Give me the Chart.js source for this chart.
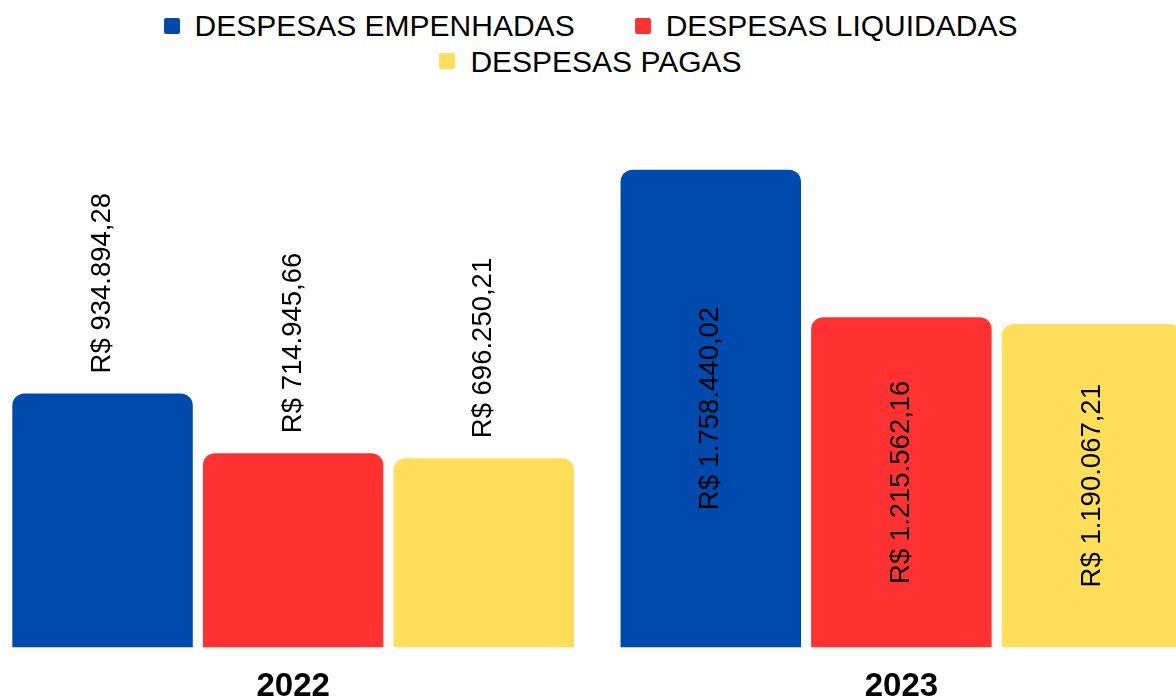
<!DOCTYPE html>
<html>
<head>
<meta charset="utf-8">
<script src="https://cdn.jsdelivr.net/npm/chart.js@4"></script>
<style>
  html, body { margin: 0; padding: 0; background: #fff; overflow: hidden; }
  body { width: 1176px; height: 698px; position: relative; }
  #legenda {
    position: absolute; top: 8px; left: 0; width: 1181px;
    display: flex; flex-wrap: wrap; justify-content: center; column-gap: 60px;
    font: 30px "Liberation Sans", Arial, sans-serif; line-height: 35.5px; color: #000;
  }
  #legenda .item { display: flex; align-items: center; white-space: nowrap; }
  #legenda .caixa { width: 16px; height: 16px; border-radius: 2px; margin-right: 15px; }
  #grafico { position: absolute; top: 0; left: -11.5px; width: 1216.5px; height: 719px; }
</style>
</head>
<body>
<div id="legenda"></div>
<div id="grafico"><canvas id="despesas"></canvas></div>
<script>
// DESPESAS POR ANO
var anos = ['2022', '2023'];
var empenhadas = [934894.28, 1758440.02];
var liquidadas = [714945.66, 1215562.16];
var pagas = [696250.21, 1190067.21];

function reais(v) {
    var partes = v.toFixed(2).split('.');
    var inteiro = partes[0].replace(/\B(?=(\d{3})+(?!\d))/g, '.');
    return 'R$ ' + inteiro + ',' + partes[1];
}

// rotulos girados: acima da barra quando nao cabem, no meio quando cabem
var rotulos = {
    id: 'rotulos',
    afterDatasetsDraw: function (chart) {
        var ctx = chart.ctx;
        ctx.save();
        ctx.font = '27.5px "Liberation Sans", Arial, sans-serif';
        ctx.fillStyle = '#000';
        ctx.textBaseline = 'middle';
        chart.data.datasets.forEach(function (ds, i) {
            chart.getDatasetMeta(i).data.forEach(function (bar, j) {
                var texto = reais(ds.data[j]);
                var w = ctx.measureText(texto).width;
                var h = bar.base - bar.y;
                ctx.save();
                if (w + 80 < h) {
                    ctx.translate(bar.x, (bar.y + bar.base) / 2);
                    ctx.textAlign = 'center';
                } else {
                    ctx.translate(bar.x, bar.y - 20);
                    ctx.textAlign = 'left';
                }
                ctx.rotate(-Math.PI / 2);
                ctx.fillText(texto, 0, 0);
                ctx.restore();
            });
        });
        ctx.restore();
    }
};

var ctx = document.getElementById('despesas').getContext('2d');
var grafico = new Chart(ctx, {
    type: 'bar',
    data: {
        labels: anos,
        datasets: [{
            label: 'DESPESAS EMPENHADAS',
            data: empenhadas,
            backgroundColor: '#004AAD'
        }, {
            label: 'DESPESAS LIQUIDADAS',
            data: liquidadas,
            backgroundColor: '#FF3131'
        }, {
            label: 'DESPESAS PAGAS',
            data: pagas,
            backgroundColor: '#FFDE59'
        }]
    },
    options: {
        responsive: true,
        maintainAspectRatio: false,
        animation: false,
        layout: { padding: { top: 104 } },
        datasets: {
            bar: {
                categoryPercentage: 0.94,
                barPercentage: 0.947,
                borderRadius: 12,
                borderSkipped: 'bottom'
            }
        },
        plugins: {
            legend: { display: false },
            tooltip: { enabled: false }
        },
        scales: {
            x: {
                grid: { display: false },
                border: { display: false },
                ticks: {
                    color: '#000',
                    padding: 12,
                    font: { family: '"Liberation Sans", Arial, sans-serif', size: 33, weight: 'bold' }
                }
            },
            y: {
                display: false,
                min: 0,
                max: 2000000
            }
        }
    },
    plugins: [rotulos]
});

// legenda em html, feita dos itens do proprio grafico
var itens = grafico.options.plugins.legend.labels.generateLabels(grafico);
var legenda = document.getElementById('legenda');
itens.forEach(function (it) {
    var el = document.createElement('div');
    el.className = 'item';
    var caixa = document.createElement('span');
    caixa.className = 'caixa';
    caixa.style.background = it.fillStyle;
    el.appendChild(caixa);
    el.appendChild(document.createTextNode(it.text));
    legenda.appendChild(el);
});
</script>
</body>
</html>
